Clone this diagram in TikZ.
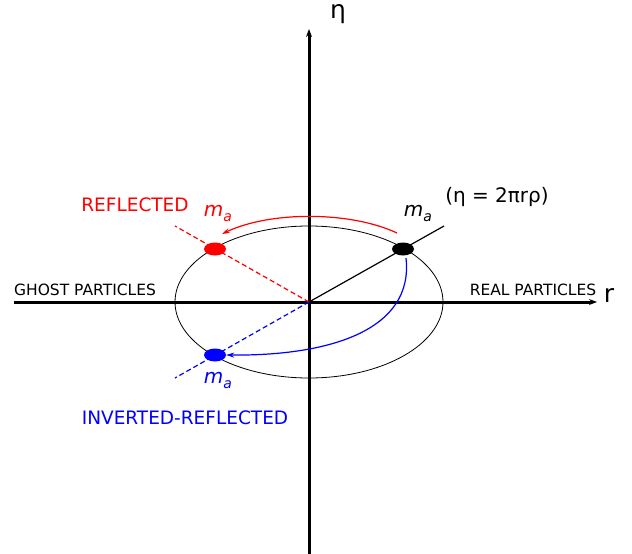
\documentclass[tikz,border=0pt]{standalone}
\usepackage{fontspec}
\setmainfont{DejaVu Sans}
\newfontfamily\oblfont{DejaVu Sans Oblique}
\usetikzlibrary{arrows.meta,shapes.geometric}
\begin{document}
\begin{tikzpicture}[x=1pt,y=-1pt,
  axis/.style={line width=3pt,-{Stealth[length=8pt,width=6pt]}},
  dotm/.style={ellipse,minimum width=22pt,minimum height=13pt,inner sep=0pt},
  lbl/.style={inner sep=0pt,font=\fontsize{15.5}{18}\selectfont},
  big/.style={inner sep=0pt,font=\fontsize{18.5}{22}\selectfont},
  mlab/.style={inner sep=0pt,font=\fontsize{20}{24}\oblfont},
  arr/.style={line width=1.2pt,-{Stealth[length=8pt,width=5pt]}}]
\useasboundingbox (0,0) rectangle (632,554);
\coordinate (O) at (309,302);
\coordinate (L) at (14,302);
\coordinate (R) at (597,302);
\coordinate (B) at (309,554);
\coordinate (T) at (309,29);
\draw[line width=3pt] (L) -- (O);
\draw[axis] (O) -- (R);
\draw[line width=3pt] (B) -- (O);
\draw[axis] (O) -- (T);
\draw[line width=0.8pt] (O) ellipse [x radius=134, y radius=76];
% lines
\coordinate (bk) at (444,226);
\coordinate (rd) at (175,226);
\coordinate (bl) at (175,378);
\draw[line width=1.2pt] (O) -- (bk);
\draw[red,line width=1.2pt,dash pattern=on 5pt off 3pt] (O) -- (rd);
\draw[blue,line width=1.2pt,dash pattern=on 5pt off 3pt] (O) -- (bl);
% dots
\node[dotm,fill=black] (mb) at (403,249) {};
\node[dotm,fill=red] (mr) at (215,249) {};
\node[dotm,fill=blue] (mbl) at (215,355) {};
% arrows
\coordinate (ra) at (397,233);
\coordinate (rb) at (222,234);
\draw[red,arr] (ra) .. controls (350,211) and (270,211) .. (rb);
\coordinate (ba) at (406,258);
\draw[blue,arr] (ba) .. controls (414,330) and (330,356) .. (mbl.east);
% labels
\node[inner sep=0pt,font=\fontsize{25}{30}\selectfont] (eta) at (338,14) {η};
\node[inner sep=0pt,font=\fontsize{25}{30}\selectfont] (r) at (609,295) {r};
\node[inner sep=0pt,font=\fontsize{20}{24}\selectfont] (eq) at (497,197) {(η = 2πrρ)};
\node[mlab,red] (lr) at (218,213) {m\raisebox{-0.25em}{\fontsize{14}{16}\oblfont a}};
\node[mlab] (lb) at (418,213) {m\raisebox{-0.25em}{\fontsize{14}{16}\oblfont a}};
\node[mlab,blue] (lbl) at (218,380) {m\raisebox{-0.25em}{\fontsize{14}{16}\oblfont a}};
\node[big,red] (refl) at (135,205) {REFLECTED};
\node[big,blue] (inv) at (185,418) {INVERTED-REFLECTED};
\node[lbl] (ghost) at (85,290) {GHOST PARTICLES};
\node[lbl] (real) at (533,290) {REAL PARTICLES};
\end{tikzpicture}
\end{document}
